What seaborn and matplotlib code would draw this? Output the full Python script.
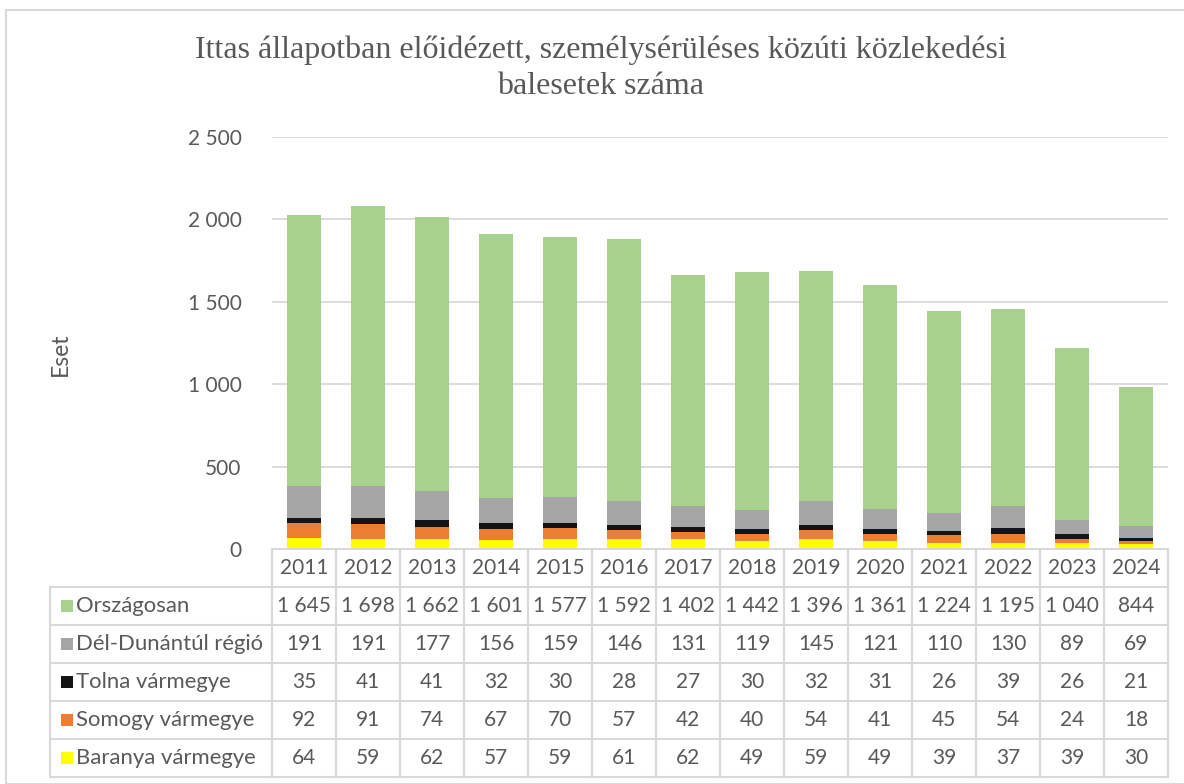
import numpy as np
import pandas as pd
import seaborn as sns
import matplotlib.pyplot as plt
from matplotlib.patches import Rectangle
from matplotlib.transforms import blended_transform_factory

# data
years = [str(y) for y in range(2011, 2025)]
baranya = [64, 59, 62, 57, 59, 61, 62, 49, 59, 49, 39, 37, 39, 30]
somogy = [92, 91, 74, 67, 70, 57, 42, 40, 54, 41, 45, 54, 24, 18]
tolna = [35, 41, 41, 32, 30, 28, 27, 30, 32, 31, 26, 39, 26, 21]
del_dunantul = [191, 191, 177, 156, 159, 146, 131, 119, 145, 121, 110, 130, 89, 69]
orszagosan = [1645, 1698, 1662, 1601, 1577, 1592, 1402, 1442, 1396, 1361, 1224, 1195, 1040, 844]

# bottom -> top stacking order
series_names = ["Baranya vármegye", "Somogy vármegye", "Tolna vármegye",
                "Dél-Dunántúl régió", "Országosan"]
series_vals = [baranya, somogy, tolna, del_dunantul, orszagosan]
colors = ["#ffff00", "#ed7d31", "#141414", "#a5a5a5", "#a9d18e"]

title = "Ittas állapotban előidézett, személysérüléses közúti közlekedési\nbalesetek száma"
ylabel = "Eset"
yticks = [0, 500, 1000, 1500, 2000, 2500]

W, H = 1184, 784
TXT = "#595959"
GRID = "#d9d9d9"

sns.set_theme(style="white")
plt.rcParams["font.family"] = ["Lato", "DejaVu Sans"]


def fmt(v):
    return f"{v:,}".replace(",", " ")


fig = plt.figure(figsize=(W / 100, H / 100), dpi=100)
fig.patches.append(Rectangle((6 / W, 0), 1.5, (H - 10) / H, transform=fig.transFigure,
                             fill=False, edgecolor=GRID, linewidth=1.5))

# plot area in pixel coordinates
left, right, top, bottom = 272, 1168, 137, 549
ax = fig.add_axes([left / W, 1 - bottom / H, (right - left) / W, (bottom - top) / H])

df = pd.DataFrame({"year": years})
cum = np.zeros(len(years))
for name, vals in zip(series_names, series_vals):
    cum = cum + np.array(vals)
    df[name] = cum

# draw cumulative totals from the tallest down so each layer covers the previous
for name, col in reversed(list(zip(series_names, colors))):
    sns.barplot(data=df, x="year", y=name, color=col, width=0.52,
                saturation=1, linewidth=0, ax=ax)

ax.set_xlim(-0.5, len(years) - 0.5)
ax.set_ylim(0, 2500)
ax.set_yticks(yticks)
ax.set_yticklabels([fmt(v) for v in yticks], fontsize=15, color=TXT)
ax.tick_params(axis="y", length=0, pad=22)
ax.tick_params(axis="x", length=0, labelbottom=False)
ax.set_xlabel("")
ax.set_ylabel("")
ax.yaxis.grid(True, color=GRID, linewidth=1.3)
ax.set_axisbelow(True)
for s in ax.spines.values():
    s.set_visible(False)

# data table under the plot
tr = blended_transform_factory(ax.transData, ax.transAxes)
ph = bottom - top
row_h = 38 / ph
label_left = -0.5 - (left - 50) / 64
n = len(years)
table_rows = list(reversed(list(zip(series_names, series_vals, colors))))

lk = dict(color=GRID, linewidth=1.5, transform=tr, clip_on=False)
# horizontal lines
ax.plot([-0.5, n - 0.5], [0, 0], **lk)
for r in range(1, len(table_rows) + 2):
    ax.plot([label_left, n - 0.5], [-r * row_h, -r * row_h], **lk)
# vertical lines
ax.plot([label_left, label_left], [-row_h, -(len(table_rows) + 1) * row_h], **lk)
for c in range(n + 1):
    ax.plot([c - 0.5, c - 0.5], [0, -(len(table_rows) + 1) * row_h], **lk)

for i, y in enumerate(years):
    ax.text(i, -0.5 * row_h, y, ha="center", va="center", fontsize=15,
            color=TXT, transform=tr, clip_on=False)

for r, (name, vals, col) in enumerate(table_rows):
    yc = -(r + 1.5) * row_h
    ax.add_patch(Rectangle((label_left + 11 / 64, yc - 6 / ph), 12 / 64, 12 / ph,
                           facecolor=col, edgecolor="none", transform=tr, clip_on=False))
    ax.text(label_left + 26 / 64, yc, name, ha="left", va="center", fontsize=15.9,
            color=TXT, transform=tr, clip_on=False)
    for i, v in enumerate(vals):
        ax.text(i, yc, fmt(v), ha="center", va="center", fontsize=15,
                color=TXT, transform=tr, clip_on=False)

fig.text(601 / W, 1 - 68 / H, title, ha="center", va="center", fontsize=23,
         color=TXT, family=["Liberation Serif", "DejaVu Serif"], linespacing=1.3)
fig.text(60 / W, 1 - 354 / H, ylabel, ha="center", va="center", rotation=90,
         fontsize=16.5, color=TXT)

fig.savefig("out.png", dpi=100)
